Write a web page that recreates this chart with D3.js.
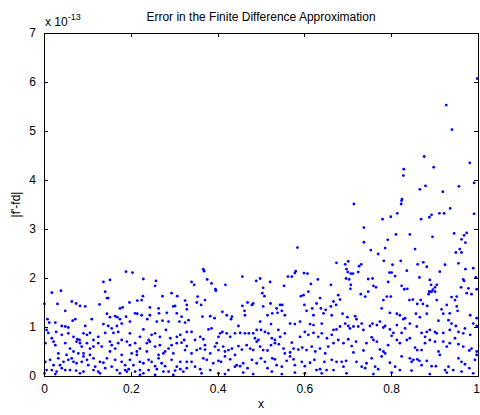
<!DOCTYPE html>
<html>
<head>
<meta charset="utf-8">
<script src="https://cdn.jsdelivr.net/npm/d3@7"></script>
<style>
    body { margin: 0; background: #fff; }
    text { font-family: "Liberation Sans", Arial, Helvetica, sans-serif; fill: #000; }
</style>
</head>
<body>
<svg id="chart" width="480" height="415"></svg>
<script>
// Chart data
var titleText = "Error in the Finite Difference Approximation";
var xLabel = "x";
var yLabel = "|f'-fd|";
var yExponent = "-13";
var xTicks = [0, 0.2, 0.4, 0.6, 0.8, 1];
var yTicks = [0, 1, 2, 3, 4, 5, 6, 7];

// points above ~1.75e-13
var highPts = [
    [0.137,1.92],[0.152,1.96],[0.189,2.13],[0.204,2.11],[0.229,1.98],[0.256,1.84],[0.258,1.94],
    [0.340,1.92],[0.346,1.86],[0.367,2.18],[0.369,2.14],[0.376,1.97],[0.386,1.89],[0.395,1.77],
    [0.418,1.86],[0.457,2.03],[0.489,1.94],[0.498,1.99],[0.505,1.80],[0.521,1.92],[0.553,1.84],
    [0.562,2.03],[0.571,2.03],[0.578,2.10],[0.580,2.14],[0.584,2.62],[0.599,2.10],[0.607,2.09],
    [0.615,1.88],[0.631,1.97],[0.661,1.86],[0.674,2.31],[0.694,2.28],[0.697,2.18],[0.701,2.34],
    [0.700,2.12],[0.707,2.09],[0.712,2.09],[0.703,1.97],[0.696,1.99],[0.707,1.86],[0.706,1.78],
    [0.724,2.12],[0.726,2.24],[0.731,2.28],[0.714,3.51],[0.737,3.03],[0.737,2.73],[0.747,1.98],
    [0.824,3.58],[0.823,3.51],[0.936,3.42],[0.780,3.20],[0.799,3.25],[0.814,3.32],[0.869,3.20],
    [0.888,3.24],[0.893,3.29],[0.911,3.32],[0.922,3.32],[0.991,3.31],[0.811,2.89],[0.792,2.78],
    [0.843,2.89],[0.895,2.84],[0.945,2.91],[0.974,2.92],[0.968,2.87],[0.962,2.79],[0.971,2.72],
    [0.753,2.57],[0.786,2.61],[0.770,2.49],[0.855,2.59],[0.949,2.52],[0.962,2.52],[0.958,2.59],
    [0.783,2.35],[0.803,2.27],[0.822,2.35],[0.861,2.28],[0.874,2.32],[0.882,2.23],[0.924,2.27],
    [0.912,2.13],[0.955,2.30],[0.971,2.18],[0.989,2.20],[0.757,1.99],[0.793,1.92],[0.796,2.11],
    [0.801,2.11],[0.809,2.04],[0.836,2.15],[0.865,2.01],[0.889,1.96],[0.905,1.86],[0.966,1.97],
    [0.968,1.94],[0.995,2.01],[0.765,1.81],[0.759,1.84],[0.824,1.84],[0.830,1.77],[0.837,1.78],
    [0.892,1.86],[0.896,1.76],[0.901,1.81],[0.888,1.72],[0.961,1.81],[0.978,1.79],[0.997,1.77],
    [0.998,6.07],[0.927,5.53],[0.940,5.03],[0.876,4.48],[0.829,4.22],[0.828,4.09],[0.898,4.26],
    [0.981,4.35],[0.991,3.94],[0.956,3.87],[0.879,3.88],[0.866,3.81],[0.919,3.76],[0.825,3.61]
];

// points for x in [0, 0.335)
var leftPts = [
    [0.018,1.70],[0.039,1.74],[0.001,1.47],[0.031,1.47],[0.064,1.52],[0.074,1.48],[0.083,1.43],
    [0.095,1.42],[0.128,1.46],[0.141,1.72],[0.145,1.59],[0.148,1.59],[0.175,1.38],[0.181,1.40],
    [0.197,1.50],[0.215,1.54],[0.225,1.55],[0.228,1.63],[0.244,1.40],[0.264,1.38],[0.273,1.63],
    [0.294,1.69],[0.307,1.63],[0.302,1.43],[0.325,1.54],[0.329,1.45],[0.329,1.36],
    [0.008,1.16],[0.012,1.09],[0.026,1.09],[0.049,1.33],[0.066,1.13],[0.072,1.16],[0.095,1.02],
    [0.110,1.16],[0.137,1.06],[0.145,1.27],[0.152,1.20],[0.148,1.02],[0.164,1.22],[0.169,1.20],
    [0.175,1.16],[0.179,1.07],[0.168,1.02],[0.189,1.21],[0.198,1.11],[0.210,1.28],[0.215,1.27],
    [0.225,1.24],[0.244,1.24],[0.238,1.16],[0.260,1.11],[0.265,1.28],[0.273,1.13],[0.283,1.29],
    [0.287,1.11],[0.298,1.42],[0.306,1.28],[0.312,1.11],[0.317,1.21],[0.325,1.09],[0.333,1.14],
    [0.006,0.94],[0.010,0.88],[0.028,0.90],[0.041,1.02],[0.049,1.01],[0.056,0.99],[0.018,0.77],
    [0.041,0.84],[0.056,0.87],[0.068,0.80],[0.077,0.75],[0.082,0.735],[0.091,0.87],[0.099,0.84],
    [0.106,0.88],[0.114,0.735],[0.125,0.80],[0.141,0.88],[0.156,0.97],[0.160,0.88],[0.171,0.90],
    [0.179,0.735],[0.198,0.87],[0.221,0.80],[0.229,0.95],[0.241,0.735],[0.248,0.84],[0.256,0.87],
    [0.267,0.80],[0.281,0.94],[0.291,0.77],[0.306,0.80],[0.314,0.84],[0.323,0.735],[0.329,0.90],
    [0.003,0.67],[0.022,0.70],[0.026,0.63],[0.049,0.67],[0.060,0.56],[0.075,0.70],[0.083,0.67],
    [0.087,0.60],[0.099,0.67],[0.106,0.56],[0.114,0.60],[0.125,0.67],[0.133,0.60],[0.152,0.70],
    [0.156,0.63],[0.164,0.56],[0.171,0.67],[0.191,0.70],[0.198,0.63],[0.210,0.67],[0.214,0.50],
    [0.221,0.56],[0.237,0.67],[0.244,0.70],[0.256,0.60],[0.267,0.63],[0.279,0.50],[0.287,0.56],
    [0.294,0.63],[0.306,0.67],[0.317,0.68],[0.325,0.53],[0.329,0.61],[0.033,0.46],[0.052,0.43],
    [0.068,0.50],[0.079,0.46],[0.091,0.46],[0.106,0.43],[0.152,0.50],[0.179,0.43],[0.202,0.46],
    [0.214,0.43],[0.237,0.50],[0.264,0.43],[0.275,0.46],[0.298,0.46],
    [0.003,0.29],[0.014,0.33],[0.022,0.22],[0.033,0.36],[0.037,0.22],[0.045,0.29],[0.056,0.33],
    [0.064,0.36],[0.068,0.29],[0.075,0.26],[0.087,0.29],[0.091,0.40],[0.099,0.33],[0.102,0.22],
    [0.114,0.36],[0.118,0.19],[0.129,0.29],[0.137,0.27],[0.145,0.36],[0.156,0.19],[0.164,0.33],
    [0.179,0.29],[0.187,0.22],[0.198,0.33],[0.206,0.22],[0.221,0.29],[0.229,0.26],[0.241,0.33],
    [0.248,0.29],[0.256,0.20],[0.264,0.36],[0.271,0.26],[0.279,0.20],[0.294,0.33],[0.306,0.19],
    [0.314,0.29],[0.329,0.29],[0.006,0.12],[0.018,0.12],[0.029,0.09],[0.041,0.16],[0.049,0.12],
    [0.060,0.12],[0.074,0.11],[0.091,0.09],[0.114,0.12],[0.125,0.09],[0.141,0.16],[0.168,0.12],
    [0.187,0.12],[0.191,0.09],[0.195,0.14],[0.210,0.09],[0.221,0.12],[0.229,0.055],[0.241,0.12],
    [0.260,0.14],[0.275,0.09],[0.287,0.09],[0.302,0.11],[0.314,0.14],[0.321,0.09],[0.329,0.16],
    [0.001,0.055],[0.026,0.04],[0.083,0.055],[0.129,0.055],[0.175,0.055],[0.221,0.02],[0.256,0.02],
    [0.298,0.02]
];

// points for x in [0.335, 0.67)
var midPts = [
    [0.354,1.62],[0.352,1.50],[0.362,1.45],[0.371,1.55],[0.396,1.74],[0.365,1.21],[0.383,1.22],
    [0.393,1.18],[0.411,1.31],[0.421,1.24],[0.433,1.21],[0.431,1.16],[0.457,1.43],[0.462,1.33],
    [0.463,1.24],[0.469,1.50],[0.479,1.45],[0.482,1.48],[0.503,1.69],[0.508,1.63],[0.505,1.42],
    [0.515,1.24],[0.522,1.48],[0.536,1.38],[0.544,1.45],[0.549,1.45],[0.555,1.24],[0.548,1.33],
    [0.538,1.29],[0.526,1.28],[0.498,1.11],[0.523,1.06],[0.567,1.07],[0.578,1.06],[0.590,1.11],
    [0.592,1.63],[0.598,1.65],[0.609,1.72],[0.600,1.45],[0.605,1.33],[0.618,1.38],[0.621,1.24],
    [0.628,1.48],[0.636,1.59],[0.638,1.38],[0.644,1.28],[0.649,1.35],[0.661,1.42],[0.667,1.52],
    [0.663,1.24],[0.640,1.07],[0.621,1.04],[0.613,1.06],
    [0.340,0.90],[0.348,0.735],[0.360,0.80],[0.367,0.75],[0.371,0.63],[0.379,0.95],[0.386,0.97],
    [0.402,0.80],[0.406,0.87],[0.411,0.90],[0.421,0.87],[0.429,0.80],[0.440,0.87],[0.448,1.02],
    [0.452,0.88],[0.463,0.87],[0.472,0.87],[0.482,0.87],[0.490,0.94],[0.486,0.77],[0.494,0.735],
    [0.500,0.94],[0.509,0.90],[0.517,0.87],[0.525,0.77],[0.532,0.735],[0.540,0.94],[0.544,0.80],
    [0.555,0.87],[0.571,0.68],[0.590,0.80],[0.601,0.90],[0.609,0.84],[0.621,0.88],[0.632,0.80],
    [0.640,0.87],[0.652,0.77],[0.663,0.84],[0.667,0.94],
    [0.340,0.46],[0.352,0.53],[0.360,0.56],[0.371,0.54],[0.383,0.46],[0.394,0.60],[0.398,0.67],
    [0.402,0.53],[0.413,0.60],[0.417,0.50],[0.425,0.53],[0.433,0.56],[0.440,0.43],[0.448,0.61],
    [0.456,0.54],[0.467,0.63],[0.475,0.56],[0.482,0.53],[0.490,0.70],[0.498,0.60],[0.505,0.53],
    [0.515,0.52],[0.523,0.63],[0.532,0.67],[0.541,0.65],[0.552,0.56],[0.555,0.46],[0.567,0.48],
    [0.575,0.56],[0.586,0.54],[0.595,0.58],[0.605,0.53],[0.617,0.60],[0.625,0.50],[0.636,0.56],
    [0.648,0.46],[0.655,0.60],[0.667,0.67],
    [0.340,0.29],[0.348,0.19],[0.360,0.14],[0.367,0.36],[0.375,0.33],[0.383,0.12],[0.390,0.26],
    [0.402,0.31],[0.408,0.29],[0.417,0.40],[0.425,0.12],[0.429,0.34],[0.440,0.19],[0.444,0.22],
    [0.452,0.20],[0.459,0.26],[0.469,0.16],[0.479,0.33],[0.490,0.26],[0.500,0.36],[0.509,0.29],
    [0.515,0.16],[0.526,0.36],[0.532,0.34],[0.536,0.22],[0.548,0.19],[0.559,0.31],[0.567,0.40],
    [0.575,0.34],[0.578,0.22],[0.594,0.29],[0.601,0.20],[0.613,0.27],[0.623,0.33],[0.628,0.12],
    [0.636,0.14],[0.646,0.29],[0.651,0.12],[0.663,0.33],[0.667,0.12],
    [0.363,0.055],[0.402,0.055],[0.417,0.04],[0.459,0.07],[0.482,0.04],[0.525,0.09],[0.548,0.04],
    [0.578,0.07],[0.601,0.055],[0.640,0.055]
];

// points for x in [0.67, 1]
var rightPts = [
    [0.678,1.65],[0.682,1.56],[0.673,1.45],[0.688,1.27],[0.699,1.20],[0.717,1.22],[0.720,1.16],
    [0.730,1.67],[0.740,1.62],[0.747,1.72],[0.782,1.55],[0.790,1.62],[0.799,1.62],[0.778,1.38],
    [0.797,1.29],[0.813,1.27],[0.820,1.24],[0.828,1.16],[0.832,1.18],[0.842,1.55],[0.850,1.56],
    [0.860,1.47],[0.868,1.55],[0.873,1.47],[0.886,1.67],[0.888,1.72],[0.893,1.72],[0.901,1.72],
    [0.905,1.55],[0.883,1.43],[0.857,1.27],[0.866,1.20],[0.882,1.27],[0.916,1.36],[0.920,1.27],
    [0.928,1.45],[0.935,1.28],[0.939,1.61],[0.947,1.55],[0.951,1.62],[0.951,1.42],[0.953,1.33],
    [0.974,1.69],[0.985,1.67],[0.982,1.24],[0.997,1.18],[0.909,1.13],[0.932,1.14],[0.939,1.07],
    [0.674,0.95],[0.682,1.01],[0.694,1.07],[0.701,1.02],[0.705,0.97],[0.713,1.01],[0.724,1.01],
    [0.732,1.07],[0.736,0.94],[0.751,1.02],[0.757,1.07],[0.767,1.04],[0.774,1.11],[0.782,0.99],
    [0.786,1.02],[0.797,0.95],[0.805,0.88],[0.813,1.04],[0.824,0.88],[0.832,0.97],[0.843,1.07],
    [0.859,1.01],[0.870,0.88],[0.878,0.80],[0.882,0.90],[0.889,0.94],[0.901,0.90],[0.905,0.87],
    [0.920,0.88],[0.935,0.94],[0.949,1.02],[0.955,0.90],[0.966,0.87],[0.970,0.97],[0.982,0.84],
    [0.989,1.07],[0.997,1.02],
    [0.678,0.735],[0.690,0.67],[0.701,0.75],[0.709,0.61],[0.719,0.70],[0.736,0.52],[0.743,0.67],
    [0.755,0.79],[0.759,0.735],[0.767,0.70],[0.774,0.54],[0.782,0.50],[0.793,0.63],[0.801,0.82],
    [0.813,0.735],[0.820,0.67],[0.836,0.735],[0.843,0.77],[0.855,0.58],[0.860,0.53],[0.870,0.53],
    [0.878,0.67],[0.889,0.735],[0.901,0.70],[0.909,0.50],[0.920,0.70],[0.928,0.60],[0.935,0.67],
    [0.947,0.77],[0.955,0.65],[0.966,0.60],[0.980,0.52],[0.985,0.56],[0.997,0.50],
    [0.674,0.29],[0.686,0.29],[0.690,0.19],[0.696,0.31],[0.713,0.48],[0.720,0.29],[0.732,0.19],
    [0.740,0.16],[0.743,0.26],[0.755,0.36],[0.763,0.19],[0.770,0.14],[0.778,0.40],[0.786,0.46],
    [0.797,0.27],[0.809,0.19],[0.820,0.12],[0.824,0.40],[0.843,0.36],[0.847,0.29],[0.851,0.33],
    [0.860,0.34],[0.865,0.31],[0.870,0.22],[0.882,0.31],[0.893,0.20],[0.903,0.20],[0.912,0.43],
    [0.924,0.12],[0.932,0.19],[0.943,0.12],[0.955,0.36],[0.962,0.29],[0.970,0.24],[0.980,0.16],
    [0.993,0.33],[0.997,0.43],
    [0.697,0.055],[0.759,0.04],[0.801,0.07],[0.847,0.11],[0.889,0.04],[0.928,0.07],[0.962,0.09],
    [0.989,0.055]
];

var allPts = highPts.concat(leftPts, midPts, rightPts);

// Layout
var style = {
    left: 44,
    right: 478,
    top: 33,
    bottom: 376,
    tickLen: 4,
    dotColor: "#0000ff",
    dotRadius: 1.4,
    fontSize: 12
};

var svg = d3.select("#chart");

var x = d3.scaleLinear().domain([0, 1]).range([style.left, style.right]);
var y = d3.scaleLinear().domain([0, 7]).range([style.bottom, style.top]);

// Dots
svg.append("g")
    .selectAll("circle")
    .data(allPts)
    .enter().append("circle")
    .attr("cx", function(d) { return x(d[0]); })
    .attr("cy", function(d) { return y(d[1]); })
    .attr("r", style.dotRadius)
    .attr("fill", style.dotColor);

// Axes (MATLAB style: ticks inward, box all round)
var xAxisBottom = d3.axisBottom(x).tickValues(xTicks).tickSizeInner(-style.tickLen).tickSizeOuter(0)
    .tickPadding(8).tickFormat(function(d) { return d === 0 || d === 1 ? d3.format("d")(d) : d3.format(".1f")(d); });
var xAxisTop = d3.axisTop(x).tickValues(xTicks).tickSizeInner(-style.tickLen).tickSizeOuter(0).tickFormat("");
var yAxisLeft = d3.axisLeft(y).tickValues(yTicks).tickSizeInner(-style.tickLen).tickSizeOuter(0)
    .tickPadding(8).tickFormat(d3.format("d"));
var yAxisRight = d3.axisRight(y).tickValues(yTicks).tickSizeInner(-style.tickLen).tickSizeOuter(0).tickFormat("");

function styleAxis(g) {
    g.selectAll("path, line").attr("stroke", "#000").attr("shape-rendering", "crispEdges");
    g.selectAll("text").attr("font-size", style.fontSize)
        .attr("font-family", "Liberation Sans, Arial, sans-serif").attr("fill", "#000");
}

var xAxisG = svg.append("g").attr("transform", "translate(0," + style.bottom + ")").call(xAxisBottom).call(styleAxis);
svg.append("g").attr("transform", "translate(0," + style.top + ")").call(xAxisTop).call(styleAxis);
svg.append("g").attr("transform", "translate(" + style.left + ",0)").call(yAxisLeft).call(styleAxis);
svg.append("g").attr("transform", "translate(" + style.right + ",0)").call(yAxisRight).call(styleAxis);

// keep the last x label inside the window
xAxisG.selectAll(".tick text").filter(function(d) { return d === 1; }).attr("dx", -2);

// Exponent label
var expLabel = svg.append("text")
    .attr("x", style.left + 1)
    .attr("y", style.top - 7)
    .attr("font-size", style.fontSize);
expLabel.append("tspan").text("x 10");
expLabel.append("tspan").attr("dy", -6).attr("font-size", 9).text(yExponent);

// Title
svg.append("text")
    .attr("x", (style.left + style.right) / 2)
    .attr("y", 21)
    .attr("text-anchor", "middle")
    .attr("font-size", style.fontSize)
    .text(titleText);

// Axis labels
svg.append("text")
    .attr("x", (style.left + style.right) / 2)
    .attr("y", 408)
    .attr("text-anchor", "middle")
    .attr("font-size", style.fontSize)
    .text(xLabel);

svg.append("text")
    .attr("transform", "translate(20," + ((style.top + style.bottom) / 2) + ") rotate(-90)")
    .attr("text-anchor", "middle")
    .attr("font-size", style.fontSize)
    .text(yLabel);
</script>
</body>
</html>
